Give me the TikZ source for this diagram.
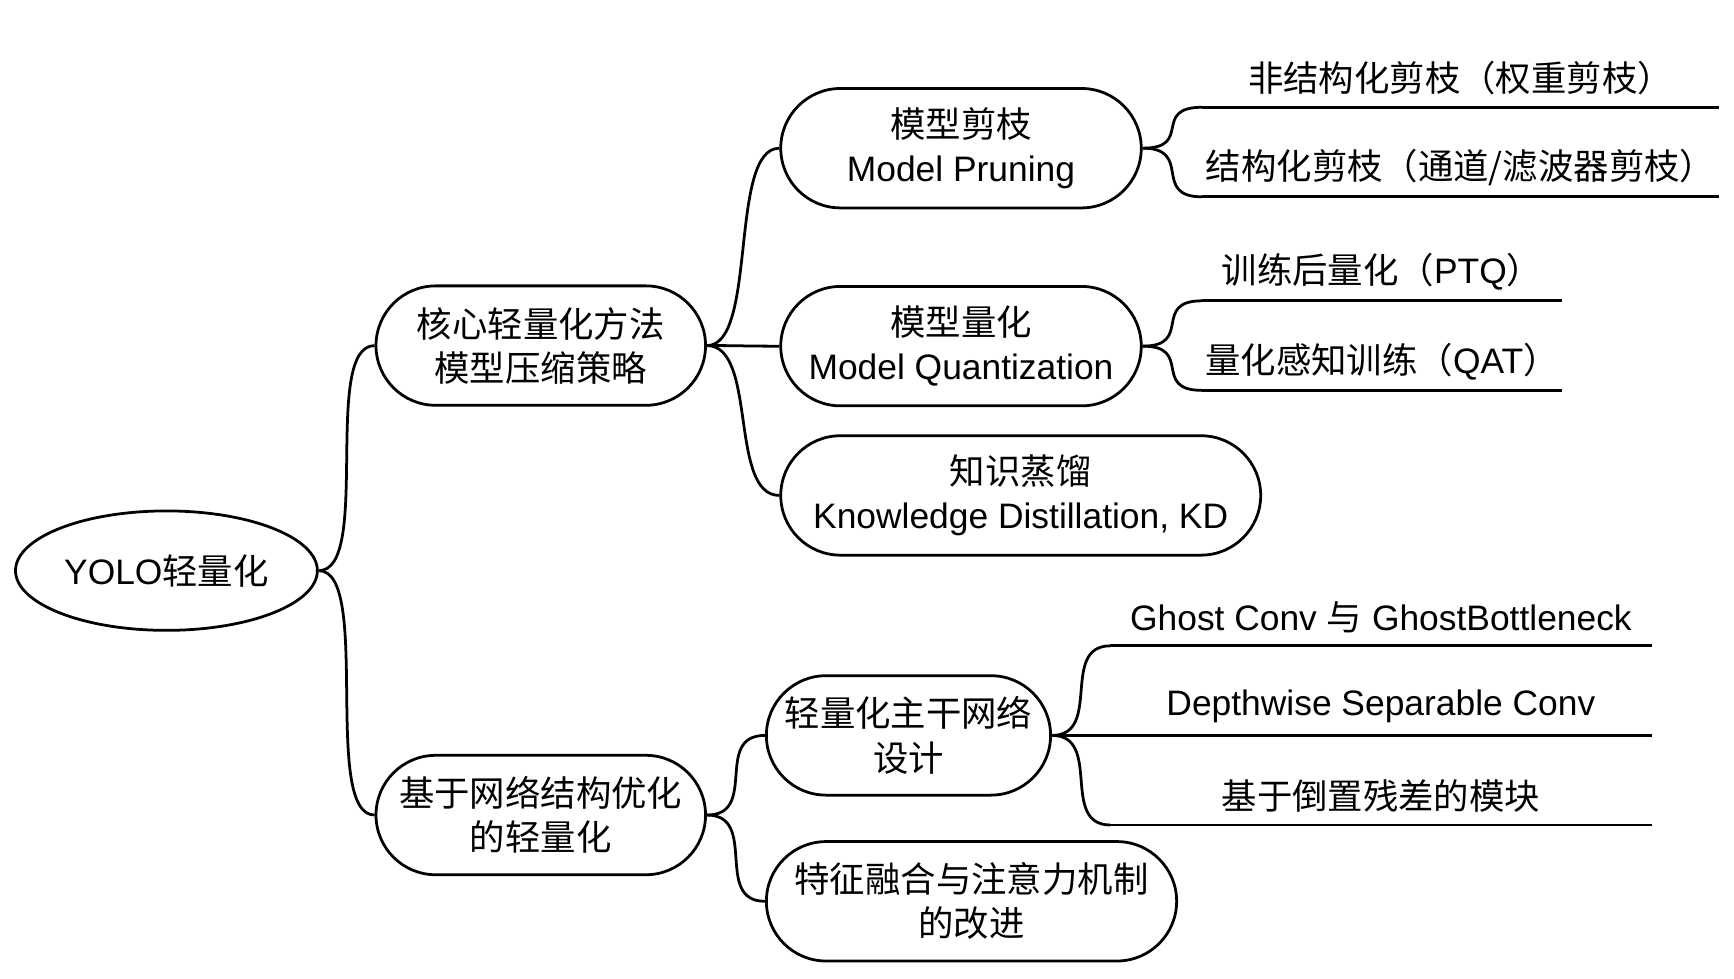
\documentclass[tikz,border=0pt]{standalone}
\usepackage{fontspec}
\setmainfont{Liberation Sans}
\newfontfamily\cjkfont{Noto Sans CJK SC}
\newcommand\zh[1]{{\cjkfont #1}}
\usetikzlibrary{shapes.geometric}

\tikzset{
  txt/.style={font=\fontsize{32}{40}\selectfont},
  mind/.style={draw, ellipse, txt, line width=2.5pt, minimum width=273pt, minimum height=108pt, inner sep=0pt},
  branch/.style={draw, rectangle, txt, rounded corners=54pt, line width=2.5pt, minimum height=108pt, inner sep=0pt, align=center},
  leaf/.style={rectangle, txt, anchor=south west, minimum height=52pt, inner sep=0pt},
  link/.style={line width=2.5pt},
}

\begin{document}
\begin{tikzpicture}[x=1pt,y=-1pt]
    \useasboundingbox (0,0) rectangle (1568,884.4);
    % root and first level
    \node[mind] (root) at (150.5,516) {YOLO\zh{轻量化}};
    \node[branch, minimum width=298pt] (core) at (489,312.5) {\zh{核心轻量化方法}\\\zh{模型压缩策略}};
    \node[branch, minimum width=298pt] (struct) at (489,737) {\zh{基于网络结构优化}\\\zh{的轻量化}};
    % second level
    \node[branch, minimum width=326pt] (prune) at (869,134) {\zh{模型剪枝}\\Model Pruning};
    \node[branch, minimum width=326pt] (quant) at (869,313) {\zh{模型量化}\\Model Quantization};
    \node[branch, minimum width=434pt] (kd) at (923,448) {\zh{知识蒸馏}\\Knowledge Distillation, KD};
    \node[branch, minimum width=257pt] (backbone) at (821.5,665) {\zh{轻量化主干网络}\\\zh{设计}};
    \node[branch, minimum width=371pt] (fusion) at (878.5,815) {\zh{特征融合与注意力机制}\\\zh{的改进}};
    % leaves
    \node[leaf, minimum width=467pt] (prA) at (1087,97) {\zh{非结构化剪枝（权重剪枝）}};
    \node[leaf, minimum width=467pt] (prB) at (1087,178) {\zh{结构化剪枝（通道/滤波器剪枝）}};
    \node[leaf, minimum width=325pt] (qtA) at (1087,272) {\zh{训练后量化（}PTQ\zh{）}};
    \node[leaf, minimum width=325pt] (qtB) at (1087,353) {\zh{量化感知训练（}QAT\zh{）}};
    \node[leaf, minimum width=489pt] (gcA) at (1004,584) {Ghost Conv \zh{与} GhostBottleneck};
    \node[leaf, minimum width=489pt] (gcB) at (1004,665) {Depthwise Separable Conv};
    \node[leaf, minimum width=489pt] (gcC) at (1004,746) {\zh{基于倒置残差的模块}};
    \foreach \n in {prA,prB,qtA,qtB,gcA,gcB,gcC}
        \draw[link] (\n.south west) -- (\n.south east);
    % connectors
    \foreach \n in {core,struct}
        \draw[link] (root.east) .. controls +(48,0) and +(-48,0) .. (\n.west);
    \foreach \n in {prune,quant,kd}
        \draw[link] (core.east) .. controls +(46,0) and +(-46,0) .. (\n.west);
    \foreach \n in {backbone,fusion}
        \draw[link] (struct.east) .. controls +(47,0) and +(-47,0) .. (\n.west);
    \foreach \n in {prA,prB}
        \draw[link] (prune.east) .. controls +(46,0) and +(-46,0) .. (\n.south west);
    \foreach \n in {qtA,qtB}
        \draw[link] (quant.east) .. controls +(46,0) and +(-46,0) .. (\n.south west);
    \foreach \n in {gcA,gcB,gcC}
        \draw[link] (backbone.east) .. controls +(46,0) and +(-46,0) .. (\n.south west);
\end{tikzpicture}
\end{document}
